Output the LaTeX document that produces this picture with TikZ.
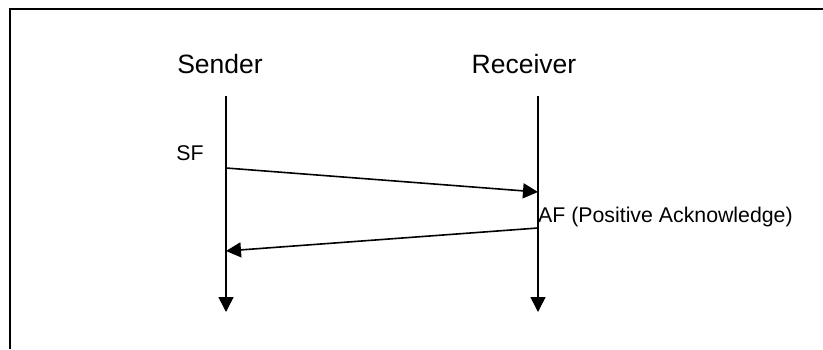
\documentclass[tikz,border=0pt]{standalone}
\usepackage{fontspec}
\setmainfont{Liberation Sans}
\usetikzlibrary{positioning,arrows.meta,calc}

\tikzset{
    actor/.style={font=\fontsize{26.5}{31}\selectfont, inner sep=0pt},
    msglabel/.style={font=\fontsize{21.3}{25}\selectfont, inner sep=0pt},
    lifeline/.style={line width=1.6pt, -{Triangle[width=15pt,length=15pt]}},
    message/.style={line width=1.6pt, -{Triangle[width=15pt,length=15pt]}}
}

\begin{document}
\begin{tikzpicture}[x=1pt, y=-1pt]

    % Cadre de la page
    \useasboundingbox (0,0) rectangle (823,349);
    \fill[white] (0,0) rectangle (823,349);
    \draw[line width=2pt] (823,9) -- (10,9) -- (10,349);

    % Acteurs
    \node[actor] (sender) at (220,64) {Sender};
    \node[actor] (receiver) at (524,64) {Receiver};

    % Lignes de vie
    \coordinate (s-top) at (226,96);
    \coordinate (s-bot) at (226,312);
    \coordinate (r-top) at (538,96);
    \coordinate (r-bot) at (538,312);
    \draw[lifeline] (s-top) -- (s-bot);
    \draw[lifeline] (r-top) -- (r-bot);

    % Messages
    \coordinate (sf-out) at (226,168);
    \coordinate (sf-in) at (538,192);
    \coordinate (af-out) at (538,228);
    \coordinate (af-in) at (226,251);
    \draw[message] (sf-out) -- (sf-in);
    \draw[message] (af-out) -- (af-in);

    % Etiquettes
    \node[msglabel] (sf) at (190,153) {SF};
    \node[msglabel, anchor=west] (af) at (538,217) {AF (Positive Acknowledge)};

\end{tikzpicture}
\end{document}
